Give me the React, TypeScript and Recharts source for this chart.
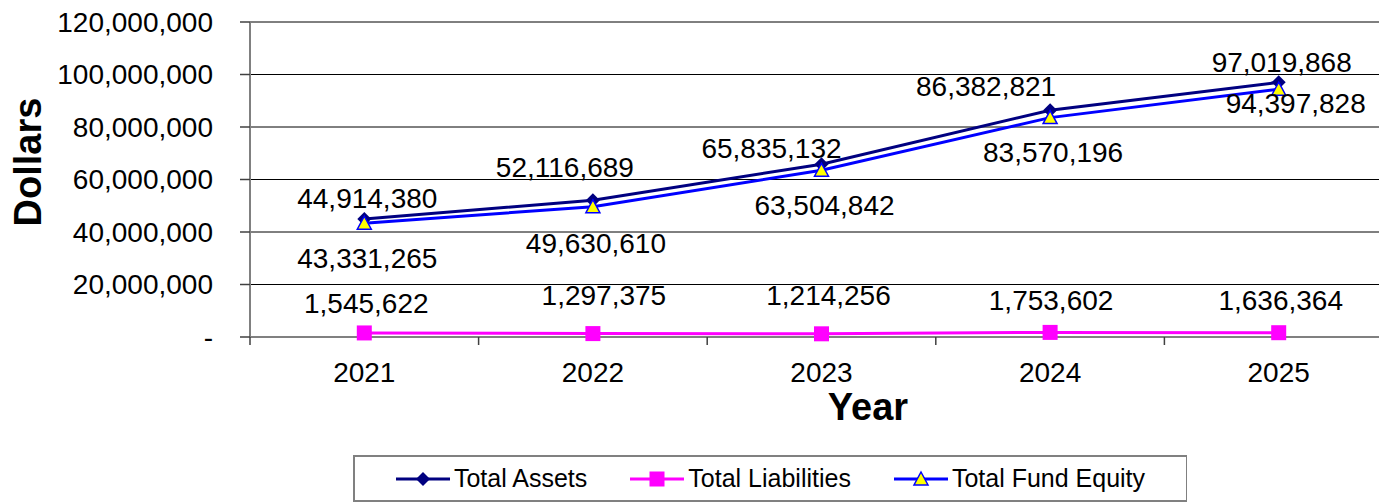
import { LineChart, Line, XAxis, YAxis, CartesianGrid } from 'recharts'

const years = ['2021', '2022', '2023', '2024', '2025']
const totalAssets = [44914380, 52116689, 65835132, 86382821, 97019868]
const totalLiabilities = [1545622, 1297375, 1214256, 1753602, 1636364]
const totalFundEquity = [43331265, 49630610, 63504842, 83570196, 94397828]
const yTicks = [0, 20000000, 40000000, 60000000, 80000000, 100000000, 120000000]

// label nudges (dx, dy) from each point, as placed in the original
const assetsLabelOffset = [[3, -21], [-28, -33], [-50, -16], [-64, -24], [3, -20]]
const liabLabelOffset = [[2, -30], [11, -38], [7, -39], [1, -32], [2, -33]]
const equityLabelOffset = [[3, 35], [3, 36], [3, 35], [3, 35], [17, 14]]

const data = years.map((year, i) => ({
    idx: i,
    year,
    assets: totalAssets[i],
    liabilities: totalLiabilities[i],
    equity: totalFundEquity[i]
}))

const FONT = '"Liberation Sans", Arial, sans-serif'
const fmt = (v: number) => (v === 0 ? '-' : v.toLocaleString('en-US'))

const makeLabel = (offsets: number[][]) => (props: any) => {
    const { x, y, value, index } = props
    const [dx, dy] = offsets[index] || [0, 0]
    return (
        <text x={x + dx} y={y + dy} dy="0.35em" textAnchor="middle" fontSize={28} fontFamily={FONT} fill="#000">
            {fmt(value)}
        </text>
    )
}

const Diamond = ({ cx, cy, size = 7 }: any) =>
    cx == null ? null : (
        <polygon points={`${cx},${cy - size} ${cx + size},${cy} ${cx},${cy + size} ${cx - size},${cy}`} fill="#000080" />
    )

const Square = ({ cx, cy, size = 7.5 }: any) =>
    cx == null ? null : <rect x={cx - size} y={cy - size} width={size * 2} height={size * 2} fill="#FF00FF" />

const Triangle = ({ cx, cy, size = 7 }: any) =>
    cx == null ? null : (
        <polygon
            points={`${cx},${cy - size} ${cx + size},${cy + size * 0.85} ${cx - size},${cy + size * 0.85}`}
            fill="#FFFF00"
            stroke="#0000FF"
            strokeWidth={1.5}
        />
    )

const xTicks = [-0.5, 0, 0.5, 1, 1.5, 2, 2.5, 3, 3.5, 4, 4.5]

const XTick = ({ x, y, payload }: any) => {
    const v = payload.value
    if (Number.isInteger(v)) {
        return (
            <text x={x} y={y + 45} textAnchor="middle" fontSize={28} fontFamily={FONT} fill="#000">
                {years[v]}
            </text>
        )
    }
    return <line x1={x} y1={y} x2={x} y2={y + 8} stroke="#404040" strokeWidth={1.5} />
}

const LegendItem = ({ color, marker, text }: { color: string; marker: any; text: string }) => (
    <div style={{ display: 'flex', alignItems: 'center' }}>
        <svg width={54} height={20} style={{ marginRight: 4 }}>
            <line x1={0} y1={10} x2={54} y2={10} stroke={color} strokeWidth={3} />
            {marker}
        </svg>
        <span>{text}</span>
    </div>
)

export default function App() {
    return (
        <div style={{ position: 'relative', width: 1379, height: 494, overflow: 'hidden', background: '#fff' }}>
            <LineChart width={1400} height={494} data={data} margin={{ top: 14, right: 15, bottom: 0, left: 0 }}>
                <CartesianGrid vertical={false} stroke="#000" strokeWidth={1} />
                <XAxis
                    type="number"
                    dataKey="idx"
                    domain={[-0.5, 4.5]}
                    ticks={xTicks}
                    interval={0}
                    height={165}
                    tickLine={false}
                    tickSize={0}
                    tickMargin={0}
                    tick={<XTick />}
                    axisLine={{ stroke: '#808080', strokeWidth: 2 }}
                    label={{
                        content: () => (
                            <text x={860} y={412} textAnchor="middle" fontSize={38} fontWeight="bold" fontFamily={FONT} fill="#000">
                                Year
                            </text>
                        )
                    }}
                />
                <YAxis
                    width={242}
                    domain={[0, 120000000]}
                    ticks={yTicks}
                    interval={0}
                    tickFormatter={fmt}
                    tickSize={10}
                    tickMargin={27}
                    tick={{ fontSize: 28, fontFamily: FONT, fill: '#000' }}
                    tickLine={{ stroke: '#404040', strokeWidth: 1.5 }}
                    axisLine={{ stroke: '#808080', strokeWidth: 2 }}
                    label={{
                        content: () => (
                            <text
                                x={20}
                                y={154}
                                dy="0.35em"
                                transform="rotate(-90 20 154)"
                                textAnchor="middle"
                                fontSize={38}
                                fontWeight="bold"
                                fontFamily={FONT}
                                fill="#000"
                            >
                                Dollars
                            </text>
                        )
                    }}
                />
                <Line
                    dataKey="assets"
                    type="linear"
                    stroke="#000080"
                    strokeWidth={3}
                    dot={<Diamond />}
                    activeDot={false}
                    label={makeLabel(assetsLabelOffset)}
                    isAnimationActive={false}
                />
                <Line
                    dataKey="liabilities"
                    type="linear"
                    stroke="#FF00FF"
                    strokeWidth={3}
                    dot={<Square />}
                    activeDot={false}
                    label={makeLabel(liabLabelOffset)}
                    isAnimationActive={false}
                />
                <Line
                    dataKey="equity"
                    type="linear"
                    stroke="#0000FF"
                    strokeWidth={3}
                    dot={<Triangle />}
                    activeDot={false}
                    label={makeLabel(equityLabelOffset)}
                    isAnimationActive={false}
                />
            </LineChart>

            <div
                style={{
                    position: 'absolute',
                    left: 345,
                    top: 447,
                    width: 834,
                    height: 47,
                    boxSizing: 'border-box',
                    border: '2px solid #808080',
                    borderRight: '1px solid #808080',
                    display: 'flex',
                    alignItems: 'center',
                    justifyContent: 'center',
                    gap: 43,
                    fontFamily: FONT,
                    fontSize: 25,
                    color: '#000',
                    background: '#fff'
                }}
            >
                <LegendItem color="#000080" text="Total Assets" marker={<Diamond cx={27} cy={10} size={7} />} />
                <LegendItem color="#FF00FF" text="Total Liabilities" marker={<Square cx={27} cy={10} size={7.5} />} />
                <LegendItem color="#0000FF" text="Total Fund Equity" marker={<Triangle cx={27} cy={10} size={7} />} />
            </div>
        </div>
    )
}
